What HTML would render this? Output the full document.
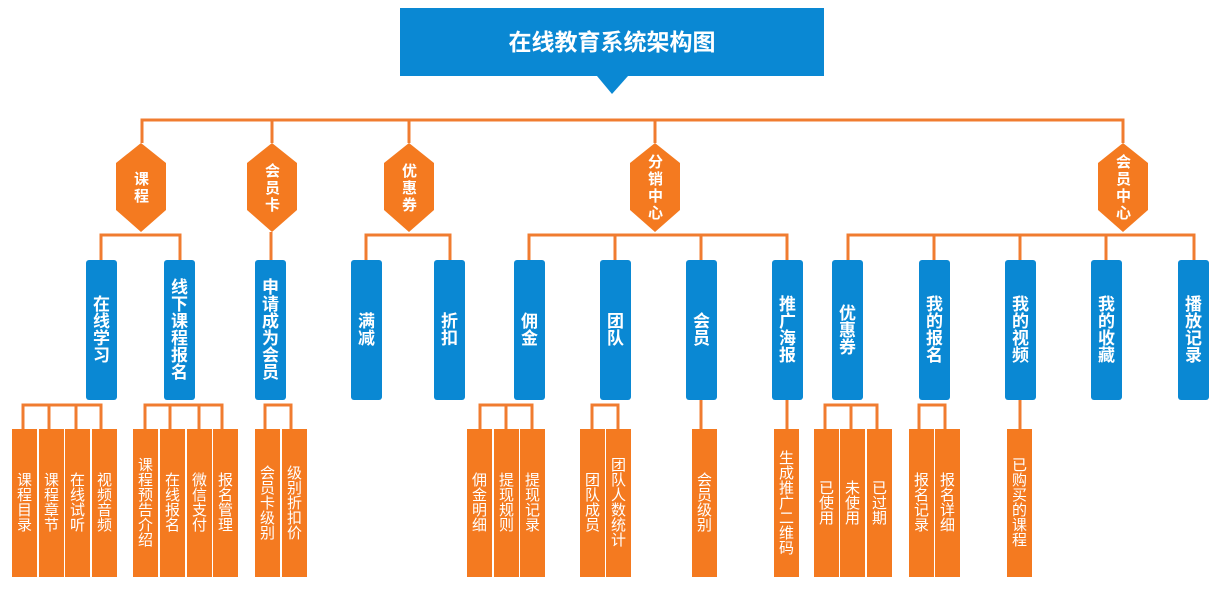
<!DOCTYPE html>
<html><head><meta charset="utf-8"><style>
body{margin:0;width:1217px;height:594px;background:#fff;position:relative;overflow:hidden;font-family:"Liberation Sans","Noto Sans CJK SC",sans-serif;}
.t{position:absolute;left:400px;top:8px;width:424px;height:68px;background:#0a88d3;color:#fff;font-weight:bold;font-size:23px;line-height:68px;text-align:center;}
.b{position:absolute;top:260px;width:31px;height:140px;background:#0a88d3;border-radius:3px;color:#fff;font-weight:bold;font-size:17px;line-height:17px;display:flex;align-items:center;justify-content:center;text-align:center;}
.l{position:absolute;top:429px;width:25px;height:148px;background:#f47a20;color:#fff;font-size:15px;line-height:15px;display:flex;align-items:center;justify-content:center;text-align:center;}
.h{position:absolute;top:148px;width:51px;height:80px;color:#fff;font-weight:bold;font-size:15px;line-height:17px;display:flex;align-items:center;justify-content:center;text-align:center;}
</style></head><body>
<svg width="1217" height="594" style="position:absolute;left:0;top:0">
<polygon points="597,76 628,76 612,94" fill="#0a88d3"/>
<g stroke="#f07c30" stroke-width="3" fill="none">
<path d="M142,143V120H1123V143 M272,120V143 M409,120V143 M655,120V143"/>
<path d="M101,260V235H180V260 M271,232V260 M366,260V235H450V260 M529,260V235H787V260 M615,235V260 M701,235V260 M848,260V235H1194V260 M934,235V260 M1020,235V260 M1106,235V260"/>
<path d="M23,429V405H101V429 M49,405V429 M76,405V429 M145,429V405H222V429 M170,405V429 M199,405V429 M265,429V405H291V429 M480,429V405H532V429 M506,405V429 M592,429V405H618V429 M701,400V429 M787,400V429 M825,429V405H877V429 M851,405V429 M919,429V405H945V429 M1020,400V429"/>
</g>
<g fill="#f47a20">
<polygon points="141,143 166,163 166,210 141,232 116,210 116,163"/>
<polygon points="272,143 297,163 297,210 272,232 247,210 247,163"/>
<polygon points="409,143 434,163 434,210 409,232 384,210 384,163"/>
<polygon points="655,143 680,163 680,210 655,232 630,210 630,163"/>
<polygon points="1123,143 1148,163 1148,210 1123,232 1098,210 1098,163"/>
</g>
</svg>
<div class="t">在线教育系统架构图</div>
<div class="h" style="left:116px">课<br>程</div>
<div class="h" style="left:247px">会<br>员<br>卡</div>
<div class="h" style="left:384px">优<br>惠<br>券</div>
<div class="h" style="left:630px">分<br>销<br>中<br>心</div>
<div class="h" style="left:1098px">会<br>员<br>中<br>心</div>

<div class="b" style="left:86px">在<br>线<br>学<br>习</div>
<div class="b" style="left:164px">线<br>下<br>课<br>程<br>报<br>名</div>
<div class="b" style="left:255px">申<br>请<br>成<br>为<br>会<br>员</div>
<div class="b" style="left:351px">满<br>减</div>
<div class="b" style="left:434px">折<br>扣</div>
<div class="b" style="left:514px">佣<br>金</div>
<div class="b" style="left:600px">团<br>队</div>
<div class="b" style="left:686px">会<br>员</div>
<div class="b" style="left:772px">推<br>广<br>海<br>报</div>
<div class="b" style="left:832px">优<br>惠<br>券</div>
<div class="b" style="left:919px">我<br>的<br>报<br>名</div>
<div class="b" style="left:1005px">我<br>的<br>视<br>频</div>
<div class="b" style="left:1091px">我<br>的<br>收<br>藏</div>
<div class="b" style="left:1178px">播<br>放<br>记<br>录</div>

<div class="l" style="left:12px">课<br>程<br>目<br>录</div>
<div class="l" style="left:39px">课<br>程<br>章<br>节</div>
<div class="l" style="left:65px">在<br>线<br>试<br>听</div>
<div class="l" style="left:92px">视<br>频<br>音<br>频</div>
<div class="l" style="left:133px">课<br>程<br>预<br>告<br>介<br>绍</div>
<div class="l" style="left:160px">在<br>线<br>报<br>名</div>
<div class="l" style="left:187px">微<br>信<br>支<br>付</div>
<div class="l" style="left:213px">报<br>名<br>管<br>理</div>
<div class="l" style="left:255px">会<br>员<br>卡<br>级<br>别</div>
<div class="l" style="left:282px">级<br>别<br>折<br>扣<br>价</div>
<div class="l" style="left:467px">佣<br>金<br>明<br>细</div>
<div class="l" style="left:494px">提<br>现<br>规<br>则</div>
<div class="l" style="left:520px">提<br>现<br>记<br>录</div>
<div class="l" style="left:580px">团<br>队<br>成<br>员</div>
<div class="l" style="left:606px">团<br>队<br>人<br>数<br>统<br>计</div>
<div class="l" style="left:692px">会<br>员<br>级<br>别</div>
<div class="l" style="left:774px">生<br>成<br>推<br>广<br>二<br>维<br>码</div>
<div class="l" style="left:814px">已<br>使<br>用</div>
<div class="l" style="left:840px">未<br>使<br>用</div>
<div class="l" style="left:867px">已<br>过<br>期</div>
<div class="l" style="left:909px">报<br>名<br>记<br>录</div>
<div class="l" style="left:935px">报<br>名<br>详<br>细</div>
<div class="l" style="left:1007px">已<br>购<br>买<br>的<br>课<br>程</div>
</body></html>
